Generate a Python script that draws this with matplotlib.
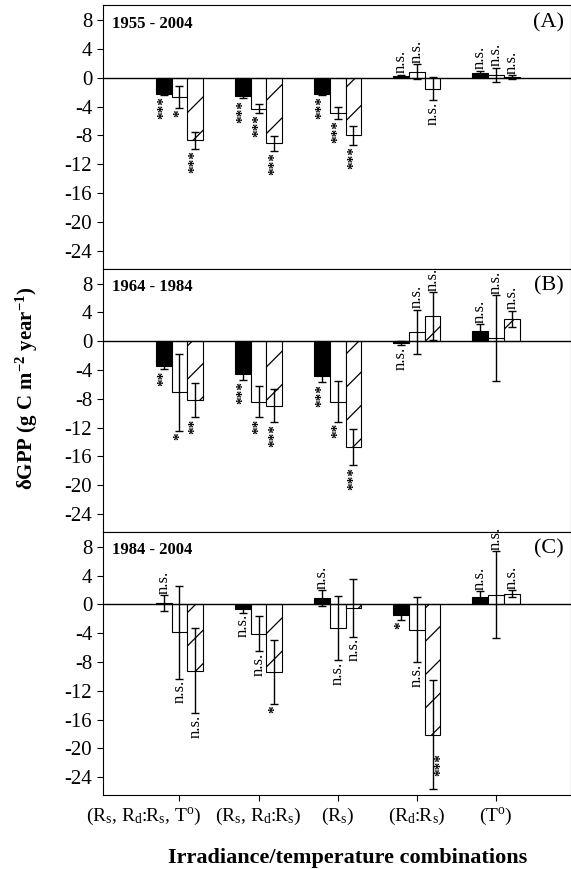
import matplotlib
matplotlib.use("Agg")
import matplotlib.pyplot as plt
import matplotlib.transforms as mtransforms
import numpy as np

plt.rcParams['font.family'] = ['Liberation Serif', 'DejaVu Serif']
plt.rcParams['mathtext.fontset'] = 'custom'
plt.rcParams['mathtext.rm'] = 'Liberation Serif'
plt.rcParams['mathtext.it'] = 'Liberation Serif'
plt.rcParams['mathtext.bf'] = 'Liberation Serif:bold'
plt.rcParams['axes.unicode_minus'] = False
plt.rcParams['hatch.linewidth'] = 0.9

# Категории и периоды
groups = ['(R$_s$, R$_d$:R$_s$, T$^o$)', '(R$_s$, R$_d$:R$_s$)', '(R$_s$)',
          '(R$_d$:R$_s$)', '(T$^o$)']
periods = ['1955 - 2004', '1964 - 1984', '1984 - 2004']
panel_tags = ['(A)', '(B)', '(C)']

# Панель A: 1955 - 2004
a_black = [-2.2, -2.55, -2.2, 0.3, 0.7]
a_black_err = [0.2, 0.3, 0.2, 0.15, 0.3]
a_white = [-2.65, -4.3, -4.9, 0.85, 0.4]
a_white_err = [1.5, 0.6, 0.8, 1.05, 1.0]
a_hatch = [-8.7, -9.1, -8.0, -1.5, 0.1]
a_hatch_err = [1.2, 1.0, 1.3, 1.6, 0.3]
a_sig = [['***', '***', '***', 'n.s.', 'n.s.'],
         ['*', '***', '***', 'n.s.', 'n.s.'],
         ['***', '***', '***', 'n.s.', 'n.s.']]

# Панель B: 1964 - 1984
b_black = [-3.5, -4.55, -4.85, -0.3, 1.35]
b_black_err = [0.4, 0.8, 0.85, 0.3, 1.0]
b_white = [-7.1, -8.4, -8.4, 1.25, 0.4]
b_white_err = [5.35, 2.15, 2.8, 3.1, 6.0]
b_hatch = [-8.15, -8.95, -14.7, 3.5, 3.1]
b_hatch_err = [2.4, 2.35, 2.55, 3.3, 1.15]
b_sig = [['**', '***', '***', 'n.s.', 'n.s.'],
         ['*', '**', '**', 'n.s.', 'n.s.'],
         ['**', '***', '***', 'n.s.', 'n.s.']]

# Панель C: 1984 - 2004
c_black = [0.2, -0.6, 0.85, -1.4, 1.0]
c_black_err = [1.05, 0.55, 1.1, 0.7, 0.85]
c_white = [-3.85, -4.05, -3.25, -3.5, 1.35]
c_white_err = [6.45, 2.4, 4.45, 4.5, 6.05]
c_hatch = [-9.2, -9.35, -0.45, -18.1, 1.5]
c_hatch_err = [5.9, 4.45, 4.0, 7.6, 0.5]
c_sig = [['n.s.', 'n.s.', 'n.s.', '*', 'n.s.'],
         ['n.s.', 'n.s.', 'n.s.', 'n.s.', 'n.s.'],
         ['n.s.', '*', 'n.s.', '***', 'n.s.']]

panels = [
    ([a_black, a_white, a_hatch], [a_black_err, a_white_err, a_hatch_err], a_sig),
    ([b_black, b_white, b_hatch], [b_black_err, b_white_err, b_hatch_err], b_sig),
    ([c_black, c_white, c_hatch], [c_black_err, c_white_err, c_hatch_err], c_sig),
]

fig = plt.figure(figsize=(5.71, 8.69), dpi=100)
left, right = 0.180, 1.0
top, bottom = 0.994, 0.085
h = (top - bottom) / 3
ymin, ymax = -26.5, 10.1

x = np.arange(len(groups))
w = 0.2
styles = [dict(color='black', edgecolor='black'),
          dict(color='white', edgecolor='black'),
          dict(color='white', edgecolor='black', hatch='/')]

for p, (vals, errs, sig) in enumerate(panels):
    ax = fig.add_axes([left, top - (p + 1) * h, right - left, h])
    for s in range(3):
        xs = x + (s - 1) * w
        ax.bar(xs, vals[s], w, linewidth=0.8, **styles[s])
        ax.errorbar(xs, vals[s], yerr=errs[s], fmt='none', ecolor='black',
                    elinewidth=1, capsize=3, capthick=1)
        for i in range(len(x)):
            v, e, t = vals[s][i], errs[s][i], sig[s][i]
            if t == 'n.s.':
                kw = dict(fontsize=12)
            else:
                kw = dict(fontsize=11, fontweight='bold')
            if v >= 0:
                ax.text(xs[i], v + e + 0.2, t, rotation=90, ha='center',
                        va='bottom', **kw)
            elif v - e - 3 < ymin:
                # нет места снизу - подпись рядом с планкой
                ax.text(xs[i] + 0.1, v - e * 0.55, t, rotation=90,
                        ha='center', va='center', **kw)
            else:
                ax.text(xs[i], v - e - 0.2, t, rotation=90, ha='center',
                        va='top', **kw)
    ax.axhline(0, color='black', lw=1)
    ax.set_xlim(-0.97, 4.95)
    ax.set_ylim(ymin, ymax)
    ax.set_yticks(np.arange(-24, 9, 4))
    ax.tick_params(axis='y', direction='out', labelsize=15, length=4)
    ax.tick_params(axis='x', direction='out', length=4)
    ax.set_xticks(x)
    if p == 2:
        labels = ax.set_xticklabels(groups, fontsize=14)
        labels[0].set_horizontalalignment('right')
        labels[0].set_transform(labels[0].get_transform() +
                                mtransforms.ScaledTranslation(0.22, 0, fig.dpi_scale_trans))
    else:
        ax.set_xticklabels([])
    ax.text(0.02, 0.96, periods[p], transform=ax.transAxes, fontsize=12,
            fontweight='bold', va='top', ha='left')
    ax.text(0.985, 0.97, panel_tags[p], transform=ax.transAxes, fontsize=16,
            va='top', ha='right')

fig.text(0.047, 0.553, r'$\mathbf{\delta}$GPP (g C m$^{\mathbf{-2}}$ year$^{\mathbf{-1}}$)',
         rotation=90, ha='center', va='center', fontsize=15, fontweight='bold')
fig.text(0.608, 0.013, 'Irradiance/temperature combinations', ha='center',
         va='center', fontsize=16, fontweight='bold')

fig.savefig('out.png', dpi=100)
